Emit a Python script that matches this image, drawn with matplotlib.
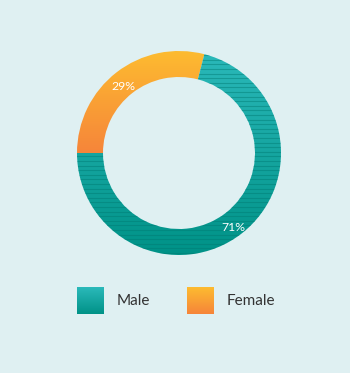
import numpy as np
import matplotlib
matplotlib.use("Agg")
from matplotlib import pyplot as plt

labels = ["Female", "Male"]
values = [29, 71]
top_colors = ["#fdbb30", "#2bb9ba"]
bottom_colors = ["#f6853a", "#009287"]

bg = "#dff0f2"
W, H = 350, 373

fig = plt.figure(figsize=(W / 100, H / 100), dpi=100, facecolor=bg)
ax = fig.add_axes([0, 0, 1, 1])

cx, cy, R, ring = 179, H - 153, 102, 26

def gradient(c1, c2, extent, clip=None):
    a = np.array(matplotlib.colors.to_rgb(c1))
    b = np.array(matplotlib.colors.to_rgb(c2))
    t = np.linspace(0, 1, 200)[:, None]
    img = (a * (1 - t) + b * t)[:, None, :]
    im = ax.imshow(img, extent=extent, aspect="auto", origin="upper", zorder=2)
    if clip is not None:
        im.set_clip_path(clip)
    return im

wedges, texts, autotexts = ax.pie(
    values, center=(cx, cy), radius=R, startangle=180, counterclock=False,
    wedgeprops=dict(width=ring, linewidth=0), autopct="%d%%", pctdistance=0.88,
    textprops=dict(color="white", fontsize=8.8, family="Lato"), frame=True)

for i, (w, c1, c2) in enumerate(zip(wedges, top_colors, bottom_colors)):
    w.set_facecolor("none")
    ymin = cy if i == 0 else cy - R
    gradient(c1, c2, (cx - R, cx + R, ymin, cy + R), clip=w)

# horizontal stripes on male segment
male = wedges[1]
for y in np.arange(cy - R + 2, cy + R, 4.6):
    ln, = ax.plot([cx - R, cx + R], [y, y], color="#007a72", lw=0.8, alpha=0.45, zorder=3)
    ln.set_clip_path(male)

for t in autotexts:
    x, y = t.get_position()
    t.set_position((x - 1, y - 4))
    t.set_zorder(5)

# legend
leg_x = [77, 187]
for lx, lab, c1, c2 in zip(leg_x, ["Male", "Female"], [top_colors[1], top_colors[0]],
                           [bottom_colors[1], bottom_colors[0]]):
    gradient(c1, c2, (lx, lx + 27, H - 314, H - 287))
    ax.text(lx + 40, H - 301, lab, fontsize=11, family="Lato", color="#333333",
            va="center", ha="left")

ax.set_xlim(0, W)
ax.set_ylim(0, H)
ax.set_aspect("equal")
ax.axis("off")
fig.savefig("out.png", dpi=100, facecolor=bg)
